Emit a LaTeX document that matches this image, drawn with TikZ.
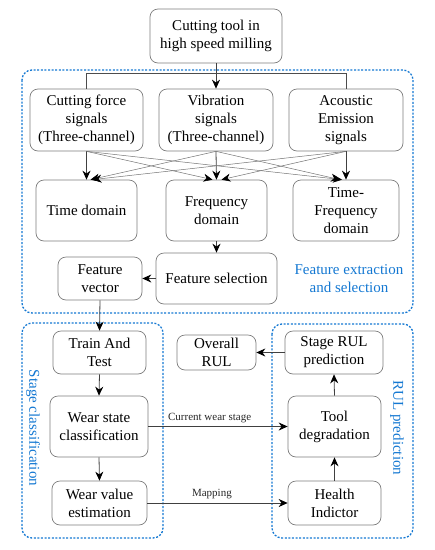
\documentclass[tikz,border=0pt]{standalone}
\usepackage{fontspec}
\setmainfont{Liberation Serif}
\usetikzlibrary{arrows.meta}
\definecolor{boxgray}{RGB}{125,125,125}
\definecolor{grpblue}{RGB}{20,120,210}
\begin{document}
\begin{tikzpicture}[x=1pt,y=-1pt,
  box/.style={draw=boxgray,line width=0.7pt,rounded corners=8pt,align=center,
    font=\fontsize{15}{18}\selectfont,inner sep=1pt},
  grp/.style={draw=grpblue,line width=1.3pt,dash pattern=on 2pt off 1.6pt,rounded corners=10pt},
  conn/.style={draw=black!75,line width=0.8pt,-{Stealth[length=9pt,width=8pt,color=black]}},
  diag/.style={draw=black!55,line width=0.5pt,-{Stealth[length=9pt,width=8pt,color=black]}},
  lbl/.style={text=grpblue,align=center,font=\fontsize{15}{18}\selectfont},
  small/.style={font=\fontsize{11}{13}\selectfont,text=black!85}]
\useasboundingbox (0,0) rectangle (435,550);
% groups
\draw[grp] (22,70) rectangle (413,313);
\draw[grp] (22,323) rectangle (163,538);
\draw[grp] (272,324) rectangle (413,538);
% nodes
\node[box,minimum width=132pt,minimum height=54pt] (top) at (216,36) {Cutting tool in\\high speed milling};
\node[box,minimum width=113pt,minimum height=62pt] (cf) at (86.5,120) {Cutting force\\signals\\(Three-channel)};
\node[box,minimum width=114pt,minimum height=62pt] (vib) at (216,120) {Vibration\\signals\\(Three-channel)};
\node[box,minimum width=114pt,minimum height=62pt] (ae) at (346,120) {Acoustic\\Emission\\signals};
\node[box,minimum width=101pt,minimum height=61pt] (td) at (86.5,210.5) {Time domain};
\node[box,minimum width=101pt,minimum height=61pt] (fd) at (216.5,210.5) {Frequency\\domain};
\node[box,minimum width=106pt,minimum height=61pt] (tfd) at (346,210.5) {Time-\\Frequency\\domain};
\node[box,minimum width=121pt,minimum height=51pt] (fs) at (216.5,278.5) {Feature selection};
\node[box,minimum width=84pt,minimum height=43pt] (fv) at (100,278.5) {Feature\\vector};
\node[box,minimum width=93pt,minimum height=43pt] (tt) at (99.5,352.5) {Train And\\Test};
\node[box,minimum width=98pt,minimum height=61pt] (ws) at (99,426.5) {Wear state\\classification};
\node[box,minimum width=95pt,minimum height=44pt] (wv) at (99.5,503) {Wear value\\estimation};
\node[box,minimum width=79pt,minimum height=35pt] (or) at (216.5,352.5) {Overall\\RUL};
\node[box,minimum width=98pt,minimum height=43pt] (sr) at (334,352.5) {Stage RUL\\prediction};
\node[box,minimum width=93pt,minimum height=61pt] (tdg) at (334.5,426.5) {Tool\\degradation};
\node[box,minimum width=93pt,minimum height=44pt] (hi) at (334.5,503) {Health\\Indictor};
% labels
\node[lbl] (lfe) at (349,278.5) {Feature extraction\\and selection};
\node[lbl,rotate=-90] (lsc) at (33,428) {Stage classification};
\node[lbl,rotate=-90] (lrp) at (397,428) {RUL prediction};
% bracket
\coordinate (bl) at (86.5,73);
\coordinate (br) at (346,73);
\draw[conn] (top.south) -- (vib.north);
\draw[draw=black!70,line width=0.6pt] (cf.north) -- (bl) -- (br) -- (ae.north);
% cross connections
\draw[conn] (cf.south) -- (td.north);
\draw[conn] (vib.south) -- (fd.north);
\draw[conn] (ae.south) -- (tfd.north);
\draw[diag] (cf.south) -- ([xshift=-4pt]fd.north);
\draw[diag] (cf.south) -- ([xshift=-4pt]tfd.north);
\draw[diag] (vib.south) -- ([xshift=4pt]td.north);
\draw[diag] (vib.south) -- ([xshift=-6pt]tfd.north);
\draw[diag] (ae.south) -- ([xshift=6pt]td.north);
\draw[diag] (ae.south) -- ([xshift=5pt]fd.north);
% lower flow
\draw[conn] (fd.south) -- (fs.north);
\draw[conn] (fs.west) -- (fv.east);
\draw[conn] (fv.south) -- (tt.north);
\draw[conn] (tt.south) -- (ws.north);
\draw[conn] (ws.south) -- (wv.north);
\draw[conn] (ws.east) -- node[small,above,pos=0.44] (lcw) {Current wear stage} (tdg.west);
\draw[conn] (wv.east) -- node[small,above,pos=0.46] (lmap) {Mapping} (hi.west);
\draw[conn] (hi.north) -- (tdg.south);
\draw[conn] (tdg.north) -- (sr.south);
\draw[conn] (sr.west) -- (or.east);
\end{tikzpicture}
\end{document}
